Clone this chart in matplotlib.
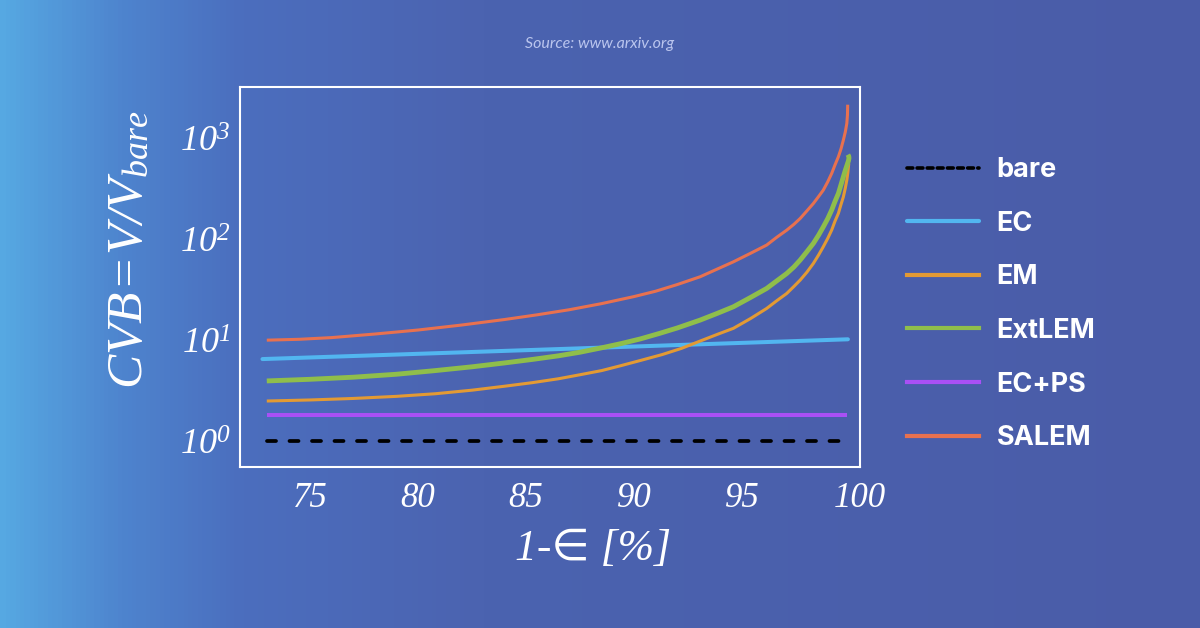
import numpy as np
import matplotlib
matplotlib.use("Agg")
import matplotlib.pyplot as plt
from matplotlib.lines import Line2D
from matplotlib.colors import LinearSegmentedColormap
from matplotlib.transforms import ScaledTranslation

plt.rcParams['mathtext.fontset'] = 'custom'
plt.rcParams['mathtext.rm'] = 'Liberation Serif:italic'
plt.rcParams['mathtext.it'] = 'Liberation Serif:italic'

# ---------------- data ----------------
series_names = ["bare", "EC", "EM", "ExtLEM", "EC+PS", "SALEM"]

bare_x = [73.0, 99.9]
bare_y = [1.0, 1.0]

ec_x = [72.8, 99.9]
ec_y = [6.5, 10.2]

ecps_x = [73.0, 99.88]
ecps_y = [1.80, 1.80]

em_x = [73.0, 75.0, 77.0, 79.0, 80.8, 82.5, 84.0, 85.3, 86.5, 87.5, 88.5, 89.4,
        90.3, 91.3, 92.2, 93.06, 93.85, 94.6,
        95.4, 96.14, 96.6, 97.07, 97.4, 97.69, 98.0, 98.3, 98.55, 98.76, 98.97,
        99.15, 99.3, 99.46, 99.58, 99.69, 99.78, 99.85, 99.9, 99.94]
em_y = [2.5, 2.56, 2.65, 2.78, 2.95, 3.2, 3.5, 3.8, 4.15, 4.55, 5.0, 5.6,
        6.3, 7.2, 8.3, 9.8, 11.4, 13.1,
        16.4, 20.6, 24.5, 29, 34, 39.3, 47, 57.4, 70, 84, 102,
        123, 150, 180, 220, 262, 320, 384, 460, 560]

extlem_x = [73.0, 75.0, 77.0, 79.0, 80.8, 82.5, 84.0, 85.3, 86.5, 87.5, 88.5,
            89.4, 90.3, 91.2, 92.0, 93.06, 93.85,
            94.6, 95.4, 96.14, 96.6, 97.07, 97.4, 97.69, 98.0, 98.3, 98.55,
            98.76, 98.97, 99.15, 99.3, 99.46, 99.58, 99.69, 99.78, 99.86,
            99.92, 99.95, 99.94, 99.9]
extlem_y = [3.95, 4.1, 4.3, 4.6, 5.0, 5.45, 5.95, 6.45, 7.0, 7.6, 8.4,
            9.25, 10.3, 11.7, 13.2, 15.8, 18.4,
            21.4, 26.5, 32.5, 38.5, 45.7, 53, 62, 75, 90.6, 110,
            132, 160, 194, 235, 283, 345, 414, 480, 540,
            590, 630, 660, 685]

salem_x = [73.0, 74.5, 76.0, 78.0, 80.0, 82.0, 84.0, 85.5, 87.0, 88.5, 90.0,
           91.0, 92.0, 93.06, 93.85, 94.6,
           95.4, 96.14, 96.6, 97.07, 97.4, 97.69, 98.0, 98.3, 98.55, 98.76,
           98.97, 99.15, 99.3, 99.46, 99.58, 99.69, 99.78, 99.85, 99.88, 99.89]
salem_y = [10.0, 10.2, 10.6, 11.5, 12.6, 14.1, 16.0, 17.8, 20.0, 23.0, 27.0,
           30.5, 35.5, 42.4, 50.5, 59.6,
           72.5, 87.3, 104, 122.7, 140, 160, 190, 225, 265, 305,
           370, 447, 540, 653, 780, 955, 1150, 1396, 1700, 2138]

x_ticks = [75, 80, 85, 90, 95, 100]
y_ticks = [1, 10, 100, 1000]
y_tick_labels = [r'$10^{0}$', r'$10^{1}$', r'$10^{2}$', r'$10^{3}$']

colors = {
    "bare": "#000000",
    "EC": "#52B6F0",
    "EM": "#E39A34",
    "ExtLEM": "#8FBE4B",
    "EC+PS": "#A950F5",
    "SALEM": "#E8714F",
}

# ---------------- figure ----------------
W, H = 1200, 628
fig = plt.figure(figsize=(W / 100, H / 100), dpi=100)

# background gradient
bg = fig.add_axes([0, 0, 1, 1], zorder=-10)
cmap = LinearSegmentedColormap.from_list(
    "bg",
    [(0.0, (86/255, 168/255, 226/255)),
     (0.1, (78/255, 132/255, 206/255)),
     (0.2, (75/255, 110/255, 190/255)),
     (0.4, (75/255, 99/255, 176/255)),
     (1.0, (74/255, 92/255, 168/255))])
grad = np.linspace(0, 1, 600).reshape(1, -1)
bg.imshow(grad, aspect='auto', cmap=cmap, extent=[0, 1, 0, 1])
bg.set_axis_off()

ax = fig.add_axes([240 / W, 1 - 467 / H, 620 / W, 380 / H])
ax.set_facecolor('none')

ax.plot(bare_x, bare_y, color=colors["bare"], lw=2.7, linestyle=(0, (2.4, 3.6)),
        dash_capstyle='round', zorder=3)
ax.plot(ecps_x, ecps_y, color=colors["EC+PS"], lw=2.9, solid_capstyle='butt', zorder=3)
ax.plot(ec_x, ec_y, color=colors["EC"], lw=2.9, solid_capstyle='round', zorder=3)
ax.plot(em_x, em_y, color=colors["EM"], lw=2.2, solid_capstyle='butt',
        solid_joinstyle='round', zorder=3)
ax.plot(extlem_x, extlem_y, color=colors["ExtLEM"], lw=3.5, solid_capstyle='butt',
        solid_joinstyle='round', zorder=4)
ax.plot(salem_x, salem_y, color=colors["SALEM"], lw=2.2, solid_capstyle='butt',
        solid_joinstyle='round', zorder=3)

ax.set_yscale('log')
ax.set_xlim(71.76, 100.46)
ax.set_ylim(10 ** -0.255, 10 ** 3.505)
ax.set_xticks(x_ticks)
ax.set_xticklabels([str(t) for t in x_ticks])
ax.set_yticks(y_ticks)
ax.set_yticklabels(y_tick_labels)
ax.yaxis.set_minor_locator(matplotlib.ticker.NullLocator())
ax.tick_params(length=0, colors='white')
ax.tick_params(axis='x', pad=11, labelsize=25)
ax.tick_params(axis='y', pad=7, labelsize=26)
xlabs = ax.get_xticklabels()
for lab in xlabs:
    lab.set_fontfamily('Liberation Serif')
    lab.set_fontstyle('italic')
xlabs[-1].set_transform(xlabs[-1].get_transform() +
                        ScaledTranslation(10 / 100, 0, fig.dpi_scale_trans))
for sp in ax.spines.values():
    sp.set_color('white')
    sp.set_linewidth(1.5)

# axis labels
fig.text(593 / W, 1 - 549 / H, "1-\u2208 [%]", color='white', fontsize=31.5,
         family=['Liberation Serif', 'DejaVu Sans'], style='italic',
         ha='center', va='center')
fig.text(128 / W, 1 - 250 / H, r'$CVB\!=\!V/V_{bare}$', color='white', fontsize=37,
         rotation=90, ha='center', va='center')

# source
fig.text(0.5, 1 - 44 / H, "Source: www.arxiv.org", color='#BAC5EE', fontsize=11.5,
         family=['Lato', 'DejaVu Sans'], style='italic', weight='normal',
         ha='center', va='center')

# legend (proxy handles carry only styles)
handles = [
    Line2D([], [], color=colors["bare"], lw=2.6, linestyle=(0, (1.6, 1.2)), dash_capstyle='round'),
    Line2D([], [], color=colors["EC"], lw=3.0, solid_capstyle='round'),
    Line2D([], [], color=colors["EM"], lw=3.0),
    Line2D([], [], color=colors["ExtLEM"], lw=3.0),
    Line2D([], [], color=colors["EC+PS"], lw=3.0),
    Line2D([], [], color=colors["SALEM"], lw=3.0),
]
leg = fig.legend(handles, series_names, loc='upper left',
                 bbox_to_anchor=(907 / W, 1 - 157 / H), frameon=False,
                 handlelength=2.65, handletextpad=0.65, labelspacing=1.02,
                 borderpad=0, borderaxespad=0,
                 prop={'family': ['Inter', 'DejaVu Sans'], 'weight': 'bold', 'size': 19.5})
for t in leg.get_texts():
    t.set_color('white')

fig.savefig("out.png", dpi=100)
